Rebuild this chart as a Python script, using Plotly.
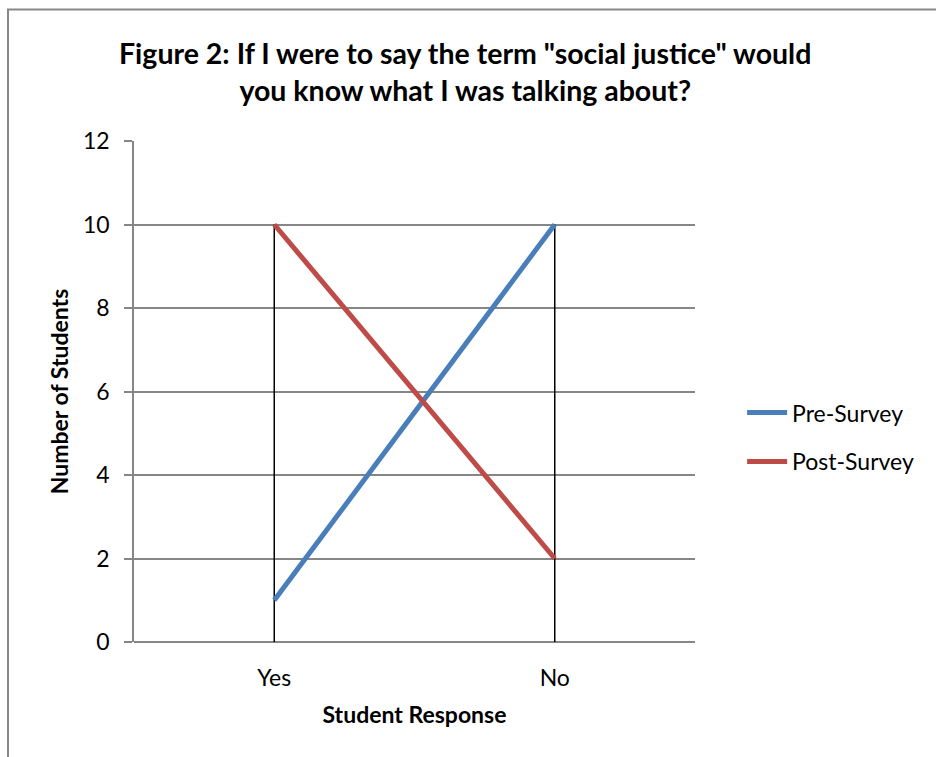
import plotly.graph_objects as go

# Survey responses
categories = ["Yes", "No"]
pre_survey = [1, 10]
post_survey = [10, 2]
y_ticks = [0, 2, 4, 6, 8, 10, 12]

FONT = "Lato"
GRID = "#868686"

fig = go.Figure()

# Drop lines from the highest point at each category down to the axis
drop_x, drop_y = [], []
for i, cat in enumerate(categories):
    top = max(pre_survey[i], post_survey[i])
    drop_x += [cat, cat, None]
    drop_y += [0, top, None]
fig.add_trace(go.Scatter(
    x=drop_x, y=drop_y, mode="lines",
    line=dict(color="black", width=1.5),
    showlegend=False, hoverinfo="skip",
))

fig.add_trace(go.Scatter(
    x=categories, y=pre_survey, mode="lines", name="Pre-Survey",
    legendgroup="pre",
    line=dict(color="#4A7EBB", width=5),
))
fig.add_trace(go.Scatter(
    x=categories, y=post_survey, mode="lines", name="Post-Survey",
    legendgroup="post",
    line=dict(color="#BE4B48", width=5),
))

fig.update_layout(
    width=936, height=757,
    margin=dict(l=134, r=241, t=141, b=115),
    paper_bgcolor="white", plot_bgcolor="white",
    font=dict(family=FONT, color="black"),
    title=dict(
        text='Figure 2: If I were to say the term "social justice" would<br>you know what I was talking about?',
        font=dict(family=FONT, size=28.5, color="black", weight="bold"),
        x=0.497, xanchor="center", y=0.916, yanchor="middle",
    ),
    xaxis=dict(
        type="category", range=[-0.5, 1.5],
        showgrid=False, showline=False, zeroline=False,
        ticks="", ticklabelstandoff=20,
        tickfont=dict(family=FONT, size=23),
        title=dict(text="Student Response", font=dict(family=FONT, size=23, weight="bold"), standoff=16),
    ),
    yaxis=dict(
        range=[0, 12], tickvals=y_ticks,
        showgrid=True, gridcolor=GRID, gridwidth=1.5,
        showline=True, linecolor=GRID, linewidth=1.5,
        zeroline=True, zerolinecolor=GRID, zerolinewidth=1.5,
        ticks="outside", ticklen=8, tickcolor=GRID, tickwidth=1.5,
        ticklabelstandoff=10,
        tickfont=dict(family=FONT, size=23),
        title=dict(text="Number of Students", font=dict(family=FONT, size=23, weight="bold"), standoff=8),
    ),
    legend=dict(
        x=1.084, xanchor="left", y=0.409, yanchor="middle",
        font=dict(family=FONT, size=23), itemwidth=40,
        traceorder="grouped", tracegroupgap=16,
        bgcolor="rgba(0,0,0,0)",
    ),
    shapes=[dict(
        type="rect", xref="paper", yref="paper",
        x0=-0.2246, x1=1.45, y0=-0.25, y1=1.2625,
        line=dict(color="#878787", width=2), layer="below",
    )],
)

fig.write_html("out.html")
